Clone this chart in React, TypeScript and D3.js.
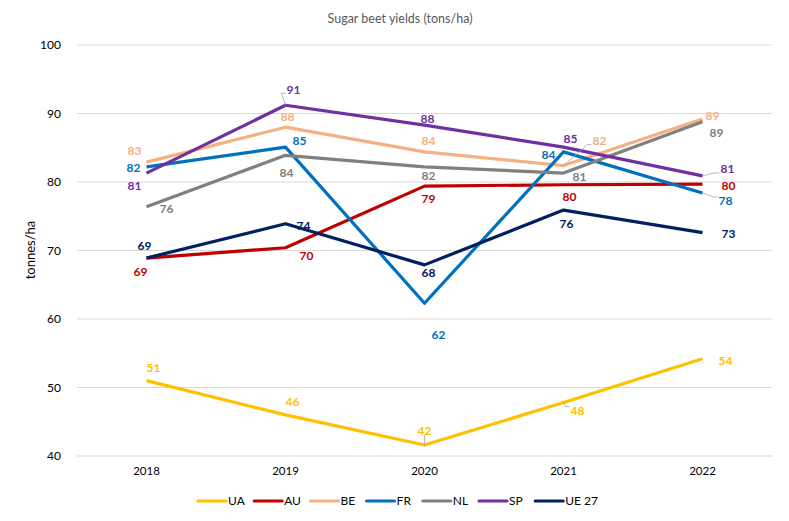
import React from "react";
import { scalePoint, scaleLinear, line } from "d3";

const years = ["2018", "2019", "2020", "2021", "2022"];
const yTicks = [40, 50, 60, 70, 80, 90, 100];

const ua = [51.0, 46.0, 41.6, 47.8, 54.2];
const au = [68.9, 70.4, 79.4, 79.6, 79.7];
const be = [82.9, 88.0, 84.4, 82.4, 89.2];
const fr = [82.2, 85.1, 62.3, 84.4, 78.4];
const nl = [76.4, 83.9, 82.2, 81.3, 88.8];
const sp = [81.3, 91.2, 88.3, 85.1, 80.9];
const ue27 = [68.9, 73.9, 67.9, 75.9, 72.6];

const seriesNames = ["UA", "AU", "BE", "FR", "NL", "SP", "UE 27"];
const seriesValues = [ua, au, be, fr, nl, sp, ue27];
const colors = ["#FFC000", "#C00000", "#F4B183", "#0070C0", "#808080", "#7030A0", "#002060"];

// label offsets [dx, dy] per series per point, plus optional leader line
const labelOffsets: [number, number, boolean?][][] = [
  [[7, -13], [7, -13], [0, -14, true], [14, 8, true], [23, 2]],
  [[-6, 14], [21, 8], [4, 13], [6, 12], [26, 2]],
  [[-12, -11], [2, -11], [4, -11], [36, -25, true], [10, -3]],
  [[-13, 1], [14, -6], [14, 31], [-15, 3], [23, 8, true]],
  [[20, 2], [1, 17], [4, 9], [16, 4], [14, 11]],
  [[-12, 13], [8, -16, true], [3, -6], [7, -8], [25, -7, true]],
  [[-2, -12], [18, 2], [4, 8], [3, 14], [26, 1]],
];

const W = 789;
const H = 521;
const font = "Lato, 'Open Sans', sans-serif";

export default function App() {
  const x = scalePoint<string>().domain(years).range([77, 772]).padding(0.5);
  const y = scaleLinear().domain([40, 100]).range([456, 45]);
  const path = line<number>()
    .x((_, i) => x(years[i]) as number)
    .y((d) => y(d));

  return (
    <svg width={W} height={H} style={{ position: "absolute", left: 0, top: 0, background: "#fff" }}>
      <text x={400} y={23} textAnchor="middle" fontFamily={font} fontSize={12.5} fill="#595959">
        Sugar beet yields (tons/ha)
      </text>
      {yTicks.map((t) => (
        <g key={t}>
          <line x1={77} x2={772} y1={y(t)} y2={y(t)} stroke="#d9d9d9" strokeWidth={1} />
          <text x={61} y={y(t) + 4} textAnchor="end" fontFamily={font} fontSize={12} fill="#000">
            {t}
          </text>
        </g>
      ))}
      <text
        transform={`translate(35,${250}) rotate(-90)`}
        textAnchor="middle"
        fontFamily={font}
        fontSize={13}
        fill="#000"
      >
        tonnes/ha
      </text>
      {years.map((yr) => (
        <text key={yr} x={x(yr)} y={475} textAnchor="middle" fontFamily={font} fontSize={11.5} fill="#000">
          {yr}
        </text>
      ))}
      {seriesValues.map((vals, si) => (
        <path
          key={seriesNames[si]}
          d={path(vals) || ""}
          fill="none"
          stroke={colors[si]}
          strokeWidth={3.2}
          strokeLinejoin="round"
        />
      ))}
      {seriesValues.map((vals, si) =>
        vals.map((v, i) => {
          const [dx, dy, leader] = labelOffsets[si][i];
          const px = x(years[i]) as number;
          const py = y(v);
          const lx = px + dx;
          const ly = py + dy;
          const side = Math.sign(dx);
          const ey = ly + (dy < 0 ? 4 : -4);
          return (
            <g key={`${si}-${i}`}>
              {leader && (
                <polyline
                  points={`${px},${py} ${lx - side * 12},${ey} ${lx - side * 8},${ey}`}
                  fill="none"
                  stroke="#a6a6a6"
                  strokeWidth={0.8}
                />
              )}
              <text
                x={lx}
                y={ly + 4.3}
                textAnchor="middle"
                fontFamily={font}
                fontWeight="bold"
                fontSize={12}
                fill={colors[si]}
              >
                {Math.round(v)}
              </text>
            </g>
          );
        })
      )}
      {seriesNames.map((name, i) => {
        const lx = 198 + i * 56.2;
        return (
          <g key={name}>
            <line x1={lx} x2={lx + 28} y1={501} y2={501} stroke={colors[i]} strokeWidth={3.2} strokeLinecap="round" />
            <text x={lx + 30} y={505} fontFamily={font} fontSize={12} fill="#000">
              {name}
            </text>
          </g>
        );
      })}
    </svg>
  );
}
